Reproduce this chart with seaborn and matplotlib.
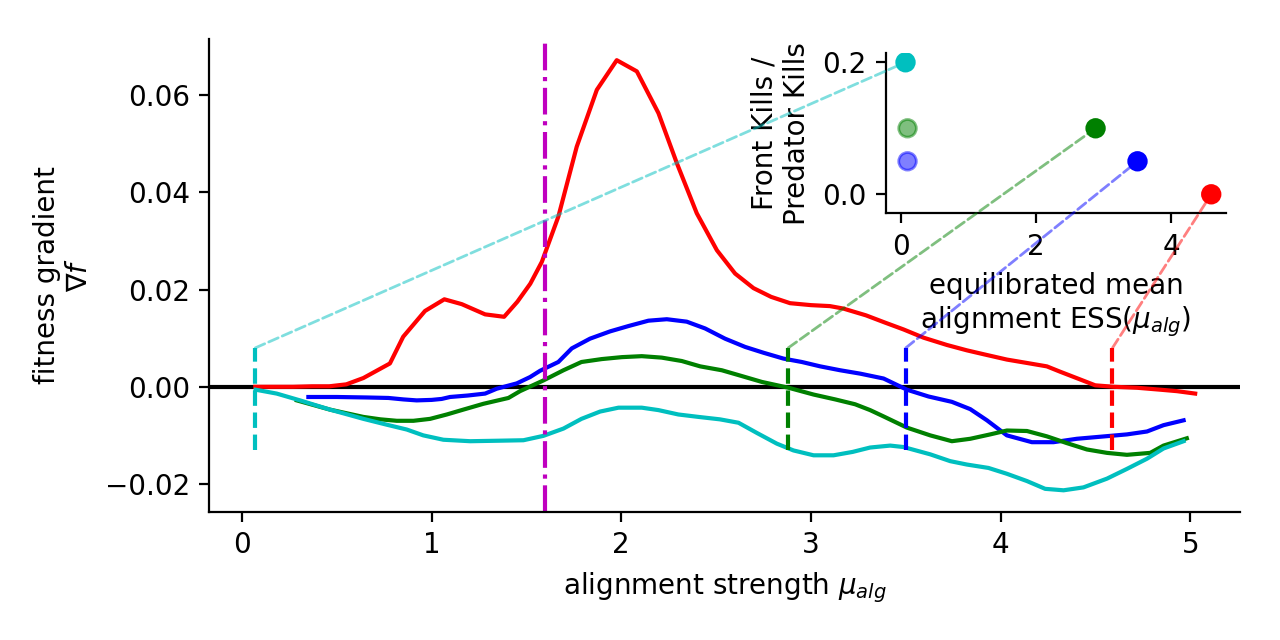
import matplotlib
matplotlib.use("Agg")
import matplotlib.pyplot as plt
from matplotlib.patches import ConnectionPatch
import pandas as pd
import seaborn as sns

# fitness gradient curves (alignment strength, gradient)
red_x = [0.07, 0.17, 0.27, 0.37, 0.46, 0.55, 0.64, 0.78, 0.85, 0.965, 1.067, 1.159,
         1.282, 1.382, 1.452, 1.52, 1.581, 1.668, 1.765, 1.871, 1.976, 2.082, 2.196,
         2.293, 2.398, 2.504, 2.60, 2.697, 2.79, 2.89, 3.00, 3.10, 3.17, 3.29, 3.391,
         3.488, 3.594, 3.717, 3.822, 3.91, 4.033, 4.139, 4.244, 4.314, 4.42, 4.499,
         4.596, 4.719, 4.842, 4.93, 5.026]
red_y = [0.0, 0.0, 0.0, 0.0001, 0.0001, 0.0005, 0.0018, 0.0048, 0.0103, 0.0156, 0.018,
         0.0170, 0.0149, 0.0144, 0.0175, 0.0212, 0.0257, 0.035, 0.0494, 0.0611, 0.0672,
         0.0649, 0.0563, 0.046, 0.0357, 0.0281, 0.0233, 0.0203, 0.0185, 0.0172, 0.0168,
         0.0166, 0.0161, 0.0147, 0.0132, 0.0118, 0.0101, 0.0086, 0.0075, 0.0067, 0.0056,
         0.0049, 0.0042, 0.0031, 0.0015, 0.0003, 0.0, -0.0002, -0.0006, -0.0009, -0.0014]

blue_x = [0.35, 0.50, 0.658, 0.772, 0.851, 0.921, 1.00, 1.053, 1.097, 1.19, 1.282,
          1.343, 1.449, 1.519, 1.572, 1.668, 1.739, 1.835, 1.941, 2.038, 2.143, 2.24,
          2.345, 2.442, 2.547, 2.653, 2.75, 2.855, 2.952, 3.049, 3.154, 3.26, 3.383,
          3.506, 3.62, 3.743, 3.84, 3.928, 4.033, 4.165, 4.279, 4.402, 4.578, 4.666,
          4.772, 4.859, 4.965]
blue_y = [-0.0021, -0.0021, -0.0022, -0.0023, -0.0026, -0.0028, -0.0027, -0.0025,
          -0.0021, -0.0018, -0.0014, -0.0004, 0.0007, 0.002, 0.0033, 0.0051, 0.0079,
          0.0099, 0.0114, 0.0125, 0.0136, 0.0139, 0.0134, 0.012, 0.0099, 0.0082, 0.007,
          0.0058, 0.0051, 0.0042, 0.0034, 0.0027, 0.0017, -0.0006, -0.002, -0.0031,
          -0.0046, -0.0069, -0.01, -0.0114, -0.0114, -0.0107, -0.0101, -0.0098, -0.0092,
          -0.0079, -0.0069]

green_x = [0.289, 0.464, 0.64, 0.73, 0.816, 0.904, 0.992, 1.08, 1.167, 1.273, 1.405,
           1.466, 1.589, 1.695, 1.79, 1.897, 2.003, 2.108, 2.213, 2.319, 2.416, 2.53,
           2.636, 2.741, 2.882, 3.014, 3.128, 3.233, 3.312, 3.383, 3.506, 3.629, 3.743,
           3.84, 3.945, 4.033, 4.139, 4.244, 4.35, 4.455, 4.561, 4.666, 4.789, 4.859,
           4.982]
green_y = [-0.0028, -0.0047, -0.0062, -0.0067, -0.007, -0.007, -0.0066, -0.0057,
           -0.0047, -0.0035, -0.0023, -0.0009, 0.0013, 0.0034, 0.0051, 0.0057, 0.0061,
           0.0063, 0.006, 0.0053, 0.0042, 0.0034, 0.0022, 0.001, -0.0002, -0.0016,
           -0.0026, -0.0036, -0.0048, -0.0061, -0.0084, -0.01, -0.0112, -0.0107, -0.0098,
           -0.009, -0.0091, -0.0102, -0.0116, -0.0129, -0.0136, -0.014, -0.0136, -0.0121,
           -0.0106]

cyan_x = [0.072, 0.183, 0.306, 0.464, 0.64, 0.763, 0.869, 0.956, 1.062, 1.203, 1.35,
          1.484, 1.589, 1.695, 1.79, 1.888, 1.985, 2.108, 2.196, 2.301, 2.407, 2.52,
          2.618, 2.715, 2.82, 2.908, 3.014, 3.119, 3.22, 3.312, 3.418, 3.488, 3.629,
          3.734, 3.822, 3.936, 4.033, 4.139, 4.235, 4.332, 4.437, 4.561, 4.666, 4.772,
          4.859, 4.965]
cyan_y = [-0.0006, -0.0014, -0.0028, -0.0047, -0.0066, -0.0078, -0.0088, -0.01, -0.0109,
          -0.0112, -0.0111, -0.011, -0.0101, -0.0086, -0.0066, -0.0051, -0.0043, -0.0043,
          -0.0048, -0.0057, -0.0062, -0.0067, -0.0074, -0.0095, -0.0117, -0.0131, -0.0141,
          -0.0141, -0.0134, -0.0125, -0.0121, -0.0124, -0.0139, -0.0153, -0.016, -0.0167,
          -0.0179, -0.0194, -0.021, -0.0213, -0.0207, -0.0189, -0.0169, -0.0148, -0.0127,
          -0.0112]

# equilibrated ESS and kill ratio per condition
colors = ['c', 'g', 'b', 'r']
ess_mu = [0.07, 2.88, 3.5, 4.59]
kill_ratio = [0.2, 0.1, 0.05, 0.0]
faded_colors = ['g', 'b']
faded_mu = [0.1, 0.1]
faded_ratio = [0.1, 0.05]

mu_critical = 1.6

curves = {'r': (red_x, red_y), 'b': (blue_x, blue_y),
          'g': (green_x, green_y), 'c': (cyan_x, cyan_y)}

plt.rcParams['font.family'] = ['DejaVu Sans']
fig = plt.figure(figsize=(6.4, 3.2), dpi=200)
ax = fig.add_axes([0.1635, 0.2005, 0.8055, 0.7381])

ax.axhline(0, color='k', lw=1.5, zorder=1)
for c in ['r', 'b', 'g', 'c']:
    xs, ys = curves[c]
    df = pd.DataFrame({'mu': xs, 'grad': ys})
    sns.lineplot(data=df, x='mu', y='grad', color=c, lw=1.5, estimator=None,
                 sort=False, ax=ax, zorder=2)

ax.axvline(mu_critical, color='m', ls='-.', lw=1.5, ymax=0.992)

ax.set_xlim(-0.1725, 5.264)
ax.set_ylim(-0.0257, 0.0715)
ax.set_yticks([-0.02, 0.0, 0.02, 0.04, 0.06])
ax.set_xlabel(r'alignment strength $\mu_{alg}$')
ax.set_ylabel('fitness gradient\n' + r'$\nabla f$')
sns.despine(ax=ax)

# inset: kill ratio vs ESS
axins = fig.add_axes([0.692, 0.6667, 0.2659, 0.25])
sns.scatterplot(x=faded_mu, y=faded_ratio, hue=faded_colors, palette={k: k for k in faded_colors},
                s=40, alpha=0.5, linewidth=1, edgecolor=faded_colors, legend=False, ax=axins)
sns.scatterplot(x=ess_mu, y=kill_ratio, hue=colors, palette={k: k for k in colors},
                s=40, linewidth=1, edgecolor=colors, legend=False, ax=axins, zorder=3)
axins.set_xlim(-0.222, 4.81)
axins.set_ylim(-0.0288, 0.2136)
axins.set_xticks([0, 2, 4])
axins.set_yticks([0.0, 0.2])
axins.set_xlabel('equilibrated mean\n' + r'alignment ESS($\mu_{alg}$)')
axins.set_ylabel('Front Kills /\nPredator Kills')
axins.patch.set_alpha(0)
sns.despine(ax=axins)

# ESS markers and connectors
for c, m, r in zip(colors, ess_mu, kill_ratio):
    ax.vlines(m, -0.013, 0.008, colors=c, linestyles='--', lw=1.5, zorder=3)
    con = ConnectionPatch(xyA=(m, 0.008), coordsA=ax.transData,
                          xyB=(m, r), coordsB=axins.transData,
                          color=c, alpha=0.5, ls='--', lw=1)
    fig.add_artist(con)

fig.savefig('out.png', dpi=200)
